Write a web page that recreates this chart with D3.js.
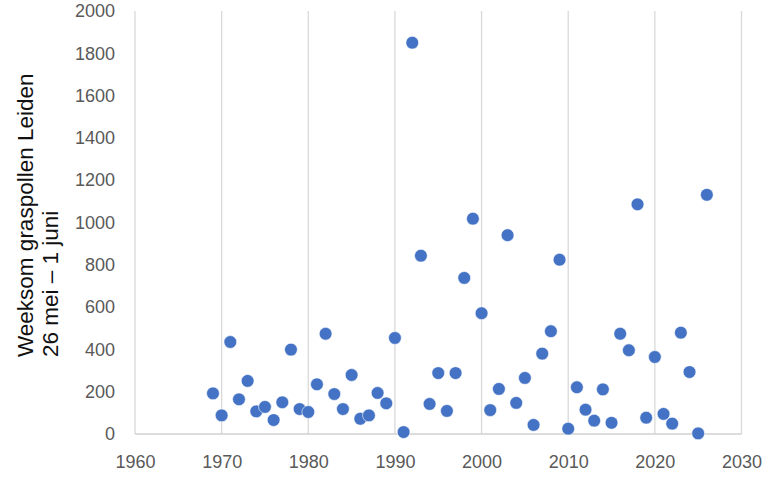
<!DOCTYPE html>
<html>
<head>
<meta charset="utf-8">
<script src="https://cdn.jsdelivr.net/npm/d3@7"></script>
<style>
  html, body { margin: 0; padding: 0; background: #ffffff; }
  svg { display: block; }
</style>
</head>
<body>
<svg id="chart" width="770" height="481"></svg>
<script>
const years = [1969,1970,1971,1972,1973,1974,1975,1976,1977,1978,1979,1980,1981,1982,1983,1984,1985,1986,1987,1988,1989,1990,1991,1992,1993,1994,1995,1996,1997,1998,1999,2000,2001,2002,2003,2004,2005,2006,2007,2008,2009,2010,2011,2012,2013,2014,2015,2016,2017,2018,2019,2020,2021,2022,2023,2024,2025,2026];
const pollen = [192,88,435,164,251,107,128,66,150,399,118,104,235,474,189,118,279,72,88,194,145,454,9,1850,843,142,288,109,288,738,1018,571,113,213,940,147,265,43,380,486,824,25,221,115,63,211,53,474,396,1086,77,364,95,49,479,293,3,1131];
const xTicks = [1960,1970,1980,1990,2000,2010,2020,2030];
const yTicks = [0,200,400,600,800,1000,1200,1400,1600,1800,2000];
const titleLines = ["Weeksom graspollen Leiden", "26 mei \u2013 1 juni"];

const svg = d3.select("#chart");
const x = d3.scaleLinear().domain([1960, 2030]).range([135, 741.5]);
const y = d3.scaleLinear().domain([0, 2000]).range([434, 11]);

// vertical gridlines
svg.append("g").selectAll("line").data(xTicks).join("line")
  .attr("x1", d => x(d)).attr("x2", d => x(d))
  .attr("y1", y(2000)).attr("y2", y(0))
  .attr("stroke", "#d9d9d9").attr("stroke-width", 1.3);

// bottom axis line
svg.append("line")
  .attr("x1", x(1960)).attr("x2", x(2030))
  .attr("y1", y(0)).attr("y2", y(0))
  .attr("stroke", "#d0d0d0").attr("stroke-width", 1.3);

const tickFont = "'Liberation Sans', Arial, sans-serif";

// x axis labels
const xAxis = d3.axisBottom(x).tickValues(xTicks).tickFormat(d3.format("d")).tickSize(0).tickPadding(21);
const gx = svg.append("g").attr("transform", `translate(0,${y(0)})`).call(xAxis);
gx.select(".domain").remove();
gx.selectAll("text").attr("font-family", tickFont).attr("font-size", 18).attr("fill", "#595959");

// y axis labels
const yAxis = d3.axisLeft(y).tickValues(yTicks).tickFormat(d3.format("d")).tickSize(0).tickPadding(0);
const gy = svg.append("g").attr("transform", `translate(115,0)`).call(yAxis);
gy.select(".domain").remove();
gy.selectAll("text").attr("font-family", tickFont).attr("font-size", 18).attr("fill", "#595959");

// points
svg.append("g").selectAll("circle").data(years.map((yr, i) => ({yr, v: pollen[i]}))).join("circle")
  .attr("cx", d => x(d.yr)).attr("cy", d => y(d.v))
  .attr("r", 6.4)
  .attr("fill", "#4472c4")
  .attr("stroke", "#ffffff").attr("stroke-width", 0.6);

// y title
const title = svg.append("text")
  .attr("transform", "translate(0,357) rotate(-90)")
  .attr("font-family", "'Liberation Sans', Arial, sans-serif")
  .attr("font-size", 22.5)
  .attr("fill", "#111111")
  .attr("text-anchor", "start");
title.selectAll("tspan").data(titleLines).join("tspan")
  .attr("x", 0)
  .attr("y", (d, i) => 33 + i * 25)
  .text(d => d);
</script>
</body>
</html>
